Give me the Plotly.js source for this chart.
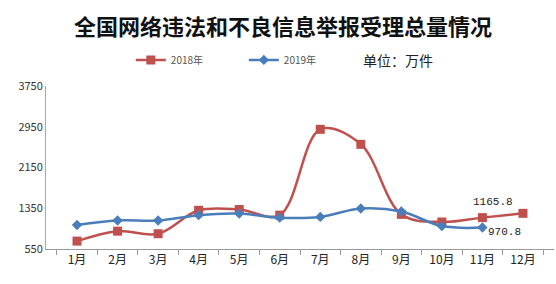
<!DOCTYPE html>
<html>
<head>
<meta charset="utf-8">
<script src="https://cdn.plot.ly/plotly-3.0.1.min.js"></script>
<style>html,body{margin:0;padding:0;background:#fff;}#chart{width:556px;height:284px;}</style>
</head>
<body>
<div id="chart"></div>
<script>
var months = ['1月','2月','3月','4月','5月','6月','7月','8月','9月','10月','11月','12月'];
var months2019 = ['1月','2月','3月','4月','5月','6月','7月','8月','9月','10月','11月'];
var values2018 = [705, 900, 850, 1310, 1325, 1215, 2900, 2605, 1230, 1080, 1165.8, 1250];
var values2019 = [1020, 1110, 1110, 1215, 1245, 1165, 1180, 1345, 1285, 1000, 970.8];
var yTicks = [550, 1350, 2150, 2950, 3750];
var seriesNames = ['2018年', '2019年'];

var red = '#C0504D', blue = '#4A7EBB';
var traces = [
  {x: months, y: values2018, name: seriesNames[0], type: 'scatter', mode: 'lines+markers',
   line: {color: red, width: 2.5, shape: 'spline', smoothing: 1},
   marker: {symbol: 'square', size: 9, color: red}},
  {x: months2019, y: values2019, name: seriesNames[1], type: 'scatter', mode: 'lines+markers',
   line: {color: blue, width: 2.5, shape: 'spline', smoothing: 1},
   marker: {symbol: 'diamond', size: 8, color: blue}}
];
var lastR = values2018.length - 2, lastB = values2019.length - 1;
var layout = {
  width: 556, height: 284,
  margin: {l: 46, r: 2, t: 86, b: 35},
  paper_bgcolor: '#fff', plot_bgcolor: '#fff',
  font: {family: '"Noto Sans CJK SC", sans-serif', color: '#333'},
  title: {text: '全国网络违法和不良信息举报受理总量情况', x: 0.509, xanchor: 'center', y: 0.905, yanchor: 'middle',
          yref: 'container', font: {size: 22, color: '#111', family: '"Noto Sans CJK SC", sans-serif', weight: 'bold'}},
  showlegend: true,
  legend: {orientation: 'h', x: 0.167, xanchor: 'left', y: 1.16, yanchor: 'middle',
           entrywidth: 68, entrywidthmode: 'pixels', itemwidth: 30,
           font: {size: 10, color: '#555'}, bgcolor: 'rgba(0,0,0,0)'},
  xaxis: {type: 'category', categoryarray: months, showline: true, linecolor: '#999', linewidth: 1,
          ticks: 'outside', tickson: 'boundaries', ticklen: 5, tickcolor: '#999',
          showgrid: false, zeroline: false, tickfont: {size: 12, color: '#222'}, fixedrange: true},
  yaxis: {range: [550, 3750], tickvals: yTicks, ticktext: yTicks.map(String), showline: true, linecolor: '#aaa',
          linewidth: 1, ticks: '', showgrid: false, zeroline: false, tickfont: {size: 11, color: '#333'}},
  annotations: [
    {xref: 'paper', yref: 'paper', x: 0.693, y: 1.16, text: '单位：万件', showarrow: false,
     font: {size: 14, color: '#222'}, xanchor: 'center', yanchor: 'middle'},
    {x: months[lastR], y: values2018[lastR], text: String(values2018[lastR].toFixed(1)), showarrow: false,
     xanchor: 'center', yanchor: 'bottom', xshift: 11, yshift: 8,
     font: {size: 11, color: '#222', family: '"Liberation Mono", monospace'}},
    {x: months2019[lastB], y: values2019[lastB], text: String(values2019[lastB].toFixed(1)), showarrow: false,
     xanchor: 'left', yanchor: 'middle', xshift: 4, yshift: -4,
     font: {size: 11, color: '#222', family: '"Liberation Mono", monospace'}}
  ]
};
Plotly.newPlot('chart', traces, layout, {displayModeBar: false, staticPlot: true});
</script>
</body>
</html>
